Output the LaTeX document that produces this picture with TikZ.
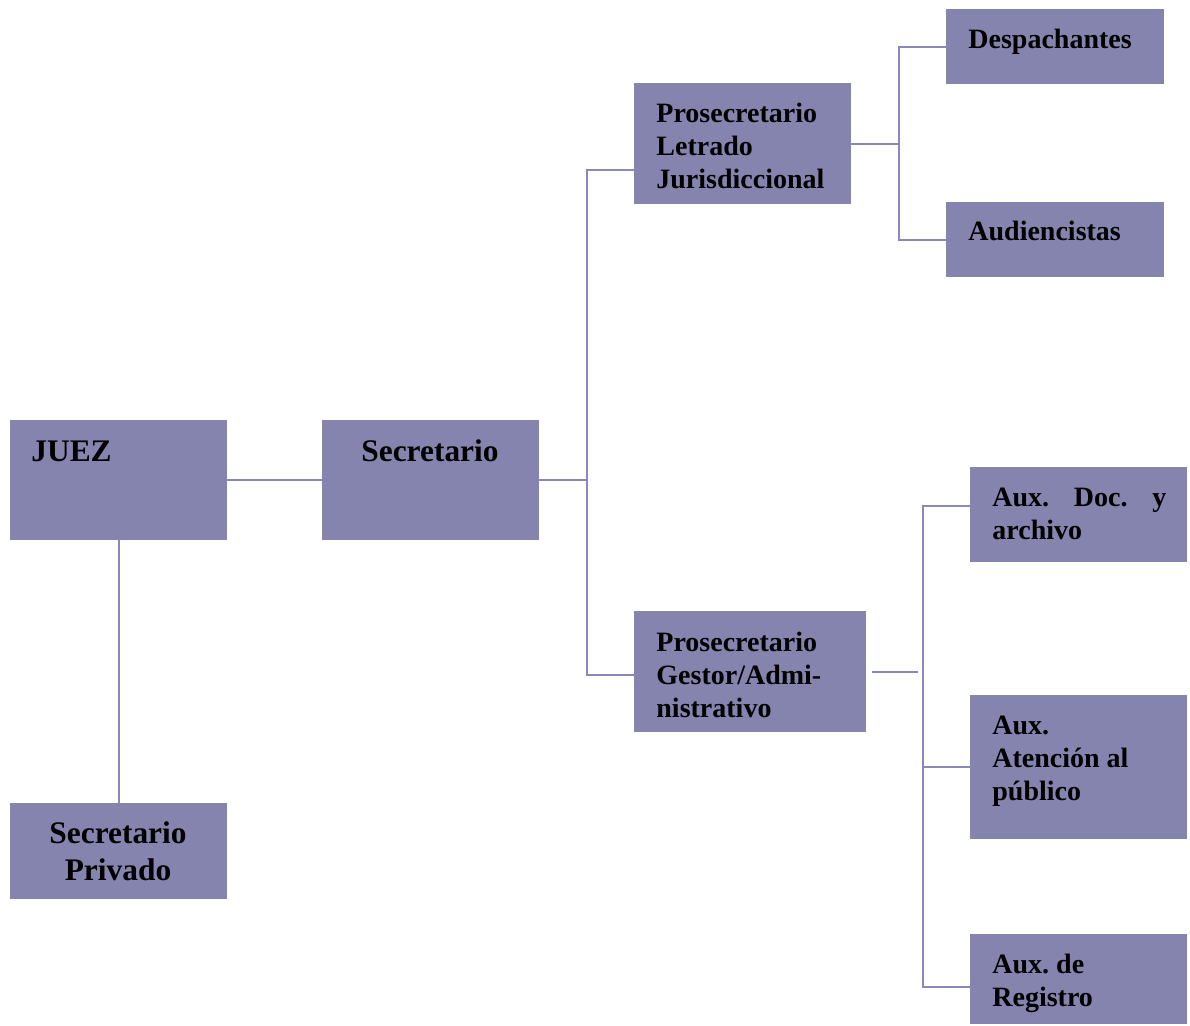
\documentclass[tikz,border=0pt]{standalone}
\usepackage{xcolor}
\usepackage{fontspec}
\setmainfont{Liberation Serif}
\usetikzlibrary{positioning,calc}
\definecolor{orgfill}{HTML}{8584AE}
\definecolor{orgline}{HTML}{8A88BA}
\tikzstyle{box} = [fill=orgfill, inner sep=0pt, outer sep=0pt, anchor=north west, minimum width=108.5pt]
\tikzstyle{lbl} = [inner sep=0pt, anchor=base west, align=left, font=\bfseries\fontsize{14}{16.5}\selectfont]
\tikzstyle{biglbl} = [lbl, font=\bfseries\fontsize{15.7}{18.5}\selectfont]
\tikzstyle{link} = [orgline, line width=1pt]
\frenchspacing
\begin{document}
\begin{tikzpicture}[x=0.5pt, y=-0.5pt]
\useasboundingbox (0,0) rectangle (1190,1025);

% boxes
\node[box, minimum height=60pt] (juez) at (10,420) {};
\node[box, minimum height=60pt] (secr) at (322,420) {};
\node[box, minimum height=48pt] (priv) at (10,803) {};
\node[box, minimum height=60.5pt] (plj) at (634,83) {};
\node[box, minimum height=60.5pt, minimum width=116pt] (pga) at (634,611) {};
\node[box, minimum height=37.5pt, minimum width=109pt] (desp) at (946,9) {};
\node[box, minimum height=37.5pt, minimum width=109pt] (aud) at (946,202) {};
\node[box, minimum height=47.5pt] (doc) at (970,467) {};
\node[box, minimum height=72pt] (atn) at (970,695) {};
\node[box, minimum height=45pt] (reg) at (970,934) {};

% texts (multi-line: base = last line)
\node[biglbl] (juezt) at (31,461) {JUEZ};
\node[biglbl] (secrt) at (361,461) {Secretario};
\node[biglbl, align=center, anchor=base] (privt) at (118,880) {Secretario\\Privado};
\node[lbl] (pljt) at (656,188) {Prosecretario\\Letrado\\Jurisdiccional};
\node[lbl] (pgat) at (656,717) {Prosecretario\\Gestor/Admi-\\nistrativo};
\node[lbl] (despt) at (968,48) {Despachantes};
\node[lbl] (audt) at (968,240) {Audiencistas};
\node[lbl, text width=87pt, align=justify] (doct) at (992,506) {Aux. Doc. y\linebreak archivo};
\node[lbl] (atnt) at (992,800) {Aux.\\Atención al\\público};
\node[lbl] (regt) at (992,1006) {Aux. de\\Registro};

% connectors
\coordinate (j1) at (587,170);
\coordinate (j2) at (587,675);
\coordinate (j3) at (899,146);
\coordinate (ktop) at (923,506);
\coordinate (kbot) at (923,987);
\draw[link] (juez.east) -- (secr.west);
\draw[link] (juez.south) -- (priv.north);
\draw[link] (secr.east) -- (secr.east -| j1);
\draw[link] (plj.west |- j1) -- (j1) -- (j2) -- (pga.west |- j2);
\draw[link] (plj.east) -- (plj.east -| j3);
\draw[link] (desp.west) -| (j3) |- (aud.west);
\draw[link] (doc.west |- ktop) -- (ktop) -- (kbot) -- (reg.west |- kbot);
\draw[link] (atn.west) -- (atn.west -| ktop);
\draw[link] ([xshift=3pt]pga.east) -- ([xshift=-2.5pt]pga.east -| ktop);
\end{tikzpicture}
\end{document}
